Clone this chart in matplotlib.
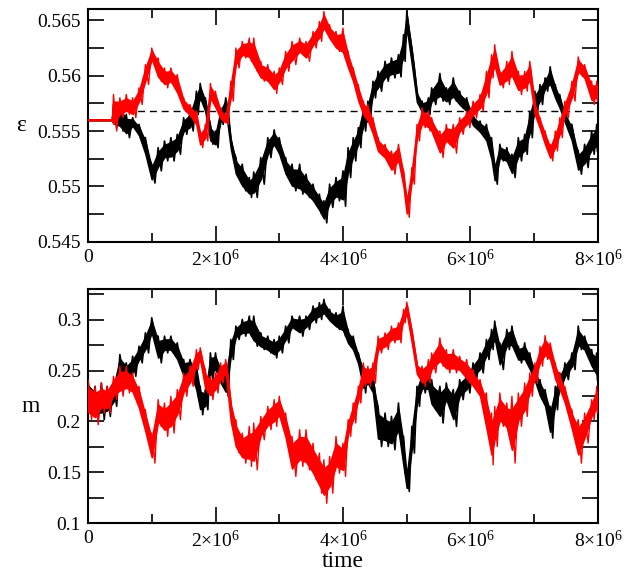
import numpy as np
import matplotlib
matplotlib.use('Agg')
import matplotlib.pyplot as plt
from matplotlib.ticker import FixedLocator

plt.rcParams['font.family'] = ['Liberation Serif', 'DejaVu Serif']
plt.rcParams['mathtext.fontset'] = 'custom'
plt.rcParams['mathtext.rm'] = 'Liberation Serif'
plt.rcParams['mathtext.it'] = 'Liberation Serif:italic'

# ---------------- data (time in units of 10^6) ----------------
t_common = [0.4, 0.5, 0.6, 0.7, 0.8, 0.9, 1.0, 1.1, 1.2, 1.3, 1.4, 1.5, 1.6, 1.7, 1.76, 1.84, 1.92, 2.0, 2.08, 2.16, 2.24, 2.32, 2.42, 2.53,
            2.6, 2.71, 2.82, 2.92, 3.0, 3.1, 3.2, 3.32, 3.42, 3.53, 3.63, 3.7, 3.79, 3.89, 4.0,
            4.08, 4.16, 4.24, 4.32, 4.39, 4.47, 4.55, 4.66, 4.76, 4.87, 4.95, 5.0, 5.08, 5.16, 5.24,
            5.34, 5.39, 5.52, 5.62, 5.73, 5.83, 5.94, 6.04, 6.15, 6.25, 6.33, 6.38, 6.46, 6.57, 6.65,
            6.75, 6.85, 6.93, 7.01, 7.09, 7.17, 7.25, 7.33, 7.4, 7.48, 7.59, 7.69, 7.79, 7.9, 7.98]
t_top = [0.0, 0.37] + t_common
t_bot = [0.0, 0.11, 0.21, 0.3] + t_common

eps_black_hi = [0.556, 0.556,
    0.5574, 0.5574, 0.5565, 0.5562, 0.5556, 0.5544, 0.5520, 0.5535, 0.5541, 0.5544, 0.5547, 0.5562, 0.5568, 0.5586, 0.5593, 0.5580, 0.5556, 0.5550, 0.5571, 0.5580, 0.5544, 0.5526, 0.5520, 0.5508,
    0.5513, 0.5526, 0.5544, 0.5551, 0.5544, 0.5526, 0.5520, 0.5520, 0.5511, 0.5502, 0.5493, 0.5487, 0.5502, 0.5508, 0.5514,
    0.5535, 0.5544, 0.5553, 0.5574, 0.5577, 0.5595, 0.5604, 0.5613, 0.5616, 0.5619, 0.5637, 0.5658, 0.5625, 0.5586, 0.5577,
    0.5580, 0.5589, 0.5602, 0.5589, 0.5598, 0.5586, 0.5580, 0.5565, 0.5559, 0.5556, 0.5544, 0.5520, 0.5538, 0.5535, 0.5529,
    0.5544, 0.5547, 0.5568, 0.5586, 0.5592, 0.5598, 0.5608, 0.5592, 0.5583, 0.5568, 0.5556, 0.5532, 0.5538, 0.5550, 0.5556]
eps_black_lo = [0.556, 0.556,
    0.5553, 0.5550, 0.5544, 0.5553, 0.5544, 0.5526, 0.5503, 0.5514, 0.5523, 0.5523, 0.5529, 0.5547, 0.5550, 0.5565, 0.5577, 0.5565, 0.5538, 0.5535, 0.5556, 0.5568, 0.5532, 0.5508, 0.5496, 0.5490,
    0.5490, 0.5502, 0.5526, 0.5535, 0.5526, 0.5508, 0.5496, 0.5493, 0.5490, 0.5484, 0.5475, 0.5467, 0.5481, 0.5487, 0.5482,
    0.5508, 0.5523, 0.5535, 0.5550, 0.5556, 0.5580, 0.5586, 0.5595, 0.5598, 0.5599, 0.5613, 0.5640, 0.5607, 0.5574, 0.5565,
    0.5565, 0.5574, 0.5577, 0.5574, 0.5577, 0.5571, 0.5565, 0.5553, 0.5547, 0.5538, 0.5520, 0.5502, 0.5523, 0.5520, 0.5508,
    0.5523, 0.5529, 0.5544, 0.5565, 0.5574, 0.5586, 0.5589, 0.5577, 0.5568, 0.5556, 0.5538, 0.5511, 0.5517, 0.5529, 0.5532]
eps_red_hi = [0.556, 0.556,
    0.5583, 0.5580, 0.5583, 0.5580, 0.5589, 0.5610, 0.5625, 0.5616, 0.5607, 0.5607, 0.5601, 0.5580, 0.5574, 0.5568, 0.5550, 0.5556, 0.5593, 0.5586, 0.5571, 0.5565, 0.5595, 0.5625, 0.5631, 0.5634,
    0.5634, 0.5613, 0.5610, 0.5604, 0.5607, 0.5622, 0.5631, 0.5634, 0.5631, 0.5640, 0.5649, 0.5658, 0.5646, 0.5640, 0.5643,
    0.5622, 0.5607, 0.5592, 0.5577, 0.5574, 0.5562, 0.5544, 0.5538, 0.5532, 0.5538, 0.5514, 0.5490, 0.5517, 0.5556, 0.5571,
    0.5568, 0.5562, 0.5550, 0.5556, 0.5556, 0.5562, 0.5568, 0.5577, 0.5583, 0.5604, 0.5619, 0.5628, 0.5604, 0.5613, 0.5622,
    0.5604, 0.5604, 0.5613, 0.5577, 0.5562, 0.5550, 0.5538, 0.5550, 0.5562, 0.5577, 0.5595, 0.5617, 0.5610, 0.5595, 0.5595]
eps_red_lo = [0.556, 0.556,
    0.5550, 0.5562, 0.5565, 0.5562, 0.5574, 0.5592, 0.5613, 0.5595, 0.5589, 0.5592, 0.5581, 0.5568, 0.5562, 0.5553, 0.5535, 0.5541, 0.5577, 0.5568, 0.5559, 0.5556, 0.5577, 0.5607, 0.5616, 0.5613,
    0.5604, 0.5595, 0.5592, 0.5584, 0.5592, 0.5604, 0.5610, 0.5619, 0.5613, 0.5625, 0.5631, 0.5640, 0.5631, 0.5622, 0.5616,
    0.5604, 0.5592, 0.5574, 0.5562, 0.5556, 0.5544, 0.5529, 0.5523, 0.5511, 0.5520, 0.5496, 0.5472, 0.5502, 0.5541, 0.5553,
    0.5550, 0.5547, 0.5526, 0.5538, 0.5530, 0.5547, 0.5553, 0.5562, 0.5568, 0.5580, 0.5598, 0.5604, 0.5589, 0.5592, 0.5595,
    0.5583, 0.5586, 0.5592, 0.5562, 0.5550, 0.5535, 0.5523, 0.5532, 0.5544, 0.5562, 0.5577, 0.5601, 0.5595, 0.5574, 0.5577]
eps_ref_t = [0.4, 8.0]
eps_ref = [0.5568, 0.5568]

m_black_hi = [0.2411, 0.2345, 0.2378, 0.2345,
    0.2378, 0.2658, 0.2576, 0.2642, 0.2740, 0.2872, 0.3020, 0.2839, 0.2839, 0.2839, 0.2773, 0.2609, 0.2609, 0.2576, 0.2345, 0.2313, 0.2674, 0.2674, 0.2543, 0.2477, 0.2806, 0.2938, 0.3003, 0.3036,
    0.3036, 0.2872, 0.2839, 0.2806, 0.2839, 0.2938, 0.3036, 0.3036, 0.3036, 0.3135, 0.3168, 0.3201, 0.3102, 0.3069, 0.3135,
    0.2905, 0.2839, 0.2674, 0.2543, 0.2510, 0.2444, 0.2148, 0.2082, 0.2049, 0.2181, 0.1852, 0.1490, 0.1951, 0.2345, 0.2510,
    0.2477, 0.2411, 0.2345, 0.2378, 0.2313, 0.2411, 0.2477, 0.2576, 0.2674, 0.2806, 0.2905, 0.2987, 0.2773, 0.2905, 0.2938,
    0.2740, 0.2773, 0.2674, 0.2510, 0.2411, 0.2313, 0.2148, 0.2345, 0.2477, 0.2576, 0.2674, 0.2938, 0.2839, 0.2707, 0.2674]
m_black_lo = [0.2115, 0.2017, 0.2017, 0.2049,
    0.2148, 0.2444, 0.2378, 0.2444, 0.2576, 0.2674, 0.2839, 0.2576, 0.2674, 0.2674, 0.2576, 0.2411, 0.2477, 0.2247, 0.2066, 0.2115, 0.2411, 0.2477, 0.2345, 0.2247, 0.2609, 0.2806, 0.2839, 0.2839,
    0.2740, 0.2707, 0.2674, 0.2625, 0.2674, 0.2773, 0.2905, 0.2839, 0.2905, 0.2970, 0.3003, 0.3036, 0.2970, 0.2905, 0.2839,
    0.2740, 0.2674, 0.2543, 0.2280, 0.2345, 0.2247, 0.1753, 0.1753, 0.1721, 0.1852, 0.1490, 0.1310, 0.1688, 0.2148, 0.2280,
    0.2280, 0.2115, 0.1984, 0.2181, 0.1951, 0.2214, 0.2280, 0.2411, 0.2477, 0.2609, 0.2707, 0.2773, 0.2510, 0.2707, 0.2707,
    0.2576, 0.2576, 0.2477, 0.2378, 0.2214, 0.2115, 0.1836, 0.2115, 0.2280, 0.2411, 0.2510, 0.2707, 0.2674, 0.2510, 0.2411]
m_red_hi = [0.2411, 0.2345, 0.2378, 0.2345,
    0.2444, 0.2543, 0.2543, 0.2477, 0.2345, 0.2115, 0.1885, 0.2214, 0.2181, 0.2247, 0.2313, 0.2477, 0.2543, 0.2707, 0.2724, 0.2510, 0.2444, 0.2477, 0.2576, 0.2609, 0.2214, 0.2017, 0.1885, 0.1951,
    0.1984, 0.2049, 0.2148, 0.2214, 0.2247, 0.2082, 0.1852, 0.1918, 0.1918, 0.1786, 0.1688, 0.1622, 0.1655, 0.1852, 0.1786,
    0.2017, 0.2181, 0.2345, 0.2576, 0.2543, 0.2576, 0.2839, 0.2872, 0.2938, 0.2970, 0.3102, 0.3174, 0.2905, 0.2576, 0.2543,
    0.2609, 0.2674, 0.2822, 0.2707, 0.2707, 0.2642, 0.2609, 0.2510, 0.2411, 0.2280, 0.2082, 0.2148, 0.2280, 0.2181, 0.2247,
    0.2280, 0.2378, 0.2477, 0.2576, 0.2740, 0.2845, 0.2773, 0.2576, 0.2477, 0.2345, 0.2115, 0.2017, 0.2082, 0.2214, 0.2345]
m_red_lo = [0.2017, 0.1967, 0.2082, 0.2082,
    0.2214, 0.2247, 0.2280, 0.2247, 0.2082, 0.1852, 0.1589, 0.1951, 0.1852, 0.1885, 0.2017, 0.2247, 0.2345, 0.2510, 0.2576, 0.2280, 0.2214, 0.2280, 0.2378, 0.2444, 0.1951, 0.1688, 0.1589, 0.1556,
    0.1523, 0.1819, 0.1918, 0.1951, 0.2017, 0.1786, 0.1458, 0.1556, 0.1523, 0.1425, 0.1293, 0.1194, 0.1293, 0.1490, 0.1458,
    0.1852, 0.1984, 0.2181, 0.2345, 0.2345, 0.2378, 0.2674, 0.2707, 0.2773, 0.2773, 0.2970, 0.3036, 0.2740, 0.2444, 0.2345,
    0.2378, 0.2477, 0.2543, 0.2477, 0.2477, 0.2477, 0.2378, 0.2313, 0.2214, 0.1852, 0.1572, 0.1753, 0.1951, 0.1885, 0.1589,
    0.1951, 0.2049, 0.2247, 0.2378, 0.2543, 0.2609, 0.2576, 0.2378, 0.2280, 0.2148, 0.1885, 0.1589, 0.1786, 0.2017, 0.2082]

x_ticks = [0, 2e6, 4e6, 6e6, 8e6]
x_ticklabels = ['0', '2×10$^6$', '4×10$^6$', '6×10$^6$', '8×10$^6$']
eps_ticks = [0.545, 0.55, 0.555, 0.56, 0.565]
eps_ticklabels = ['0.545', '0.55', '0.555', '0.56', '0.565']
m_ticks = [0.1, 0.15, 0.2, 0.25, 0.3]
m_ticklabels = ['0.1', '0.15', '0.2', '0.25', '0.3']
SCALE = 1e6
CORE = 0.2   # fraction trimmed from each side of the envelope for the solid core


def zigzag(t, hi, lo):
    t = np.asarray(t, float) * SCALE
    hi = np.asarray(hi, float)
    lo = np.asarray(lo, float)
    mid = np.empty_like(t)
    mid[:-1] = 0.5 * (t[:-1] + t[1:])
    mid[-1] = t[-1] + 0.01 * SCALE
    tt = np.empty(2 * len(t))
    yy = np.empty(2 * len(t))
    tt[0::2] = t
    tt[1::2] = mid
    yy[0::2] = hi
    yy[1::2] = lo
    return tt, yy


def band(ax, t, hi, lo, color, z, lw):
    ts = np.asarray(t, float) * SCALE
    hi_a = np.asarray(hi, float)
    lo_a = np.asarray(lo, float)
    w = hi_a - lo_a
    ax.fill_between(ts, lo_a + CORE * w, hi_a - CORE * w, color=color, lw=1.2, zorder=z)
    tt, yy = zigzag(t, hi, lo)
    ax.plot(tt, yy, color=color, lw=lw, zorder=z)


fig = plt.figure(figsize=(6.43, 5.83), dpi=100)
ax1 = fig.add_axes([88 / 643, 1 - 241.7 / 583, 510 / 643, 232.4 / 583])
ax2 = fig.add_axes([88 / 643, 1 - 523 / 583, 510 / 643, 233.7 / 583])

ax1.plot(np.array(eps_ref_t) * SCALE, eps_ref, color='black', lw=1.0, dashes=(5, 3.5), zorder=1)
band(ax1, t_top, eps_black_hi, eps_black_lo, 'black', 2, 1.2)
band(ax1, t_top, eps_red_hi, eps_red_lo, '#ff0000', 3, 1.0)

band(ax2, t_bot, m_black_hi, m_black_lo, 'black', 2, 1.2)
band(ax2, t_bot, m_red_hi, m_red_lo, '#ff0000', 3, 1.0)

ax1.set_ylim(0.545, 0.566)
ax2.set_ylim(0.1, 0.33)

for ax, yt, yl, minor_y in [(ax1, eps_ticks, eps_ticklabels, np.arange(0.5475, 0.566, 0.005)),
                            (ax2, m_ticks, m_ticklabels, np.arange(0.125, 0.33, 0.05))]:
    ax.set_xlim(0, 8e6)
    ax.xaxis.set_major_locator(FixedLocator(x_ticks))
    ax.set_xticklabels(x_ticklabels)
    ax.xaxis.set_minor_locator(FixedLocator([1e6, 3e6, 5e6, 7e6]))
    ax.yaxis.set_major_locator(FixedLocator(yt))
    ax.set_yticklabels(yl)
    ax.yaxis.set_minor_locator(FixedLocator(minor_y))
    ax.tick_params(which='both', direction='in', top=True, right=True, width=1.2, labelsize=14)
    ax.tick_params(axis='both', which='major', length=11.5)
    ax.tick_params(axis='y', which='minor', length=11.5)
    ax.tick_params(axis='x', which='minor', length=6.5)
    ax.tick_params(axis='x', which='major', pad=5)
    ax.tick_params(axis='y', which='major', pad=5)
    for s in ax.spines.values():
        s.set_linewidth(1.5)

ax1.set_ylabel('ε', rotation=0, fontsize=17, labelpad=12, va='center')
ax2.set_ylabel('m', rotation=0, fontsize=17, labelpad=12, va='center')
ax2.set_xlabel('time', fontsize=17, labelpad=0)

fig.savefig('out.png', dpi=100)
